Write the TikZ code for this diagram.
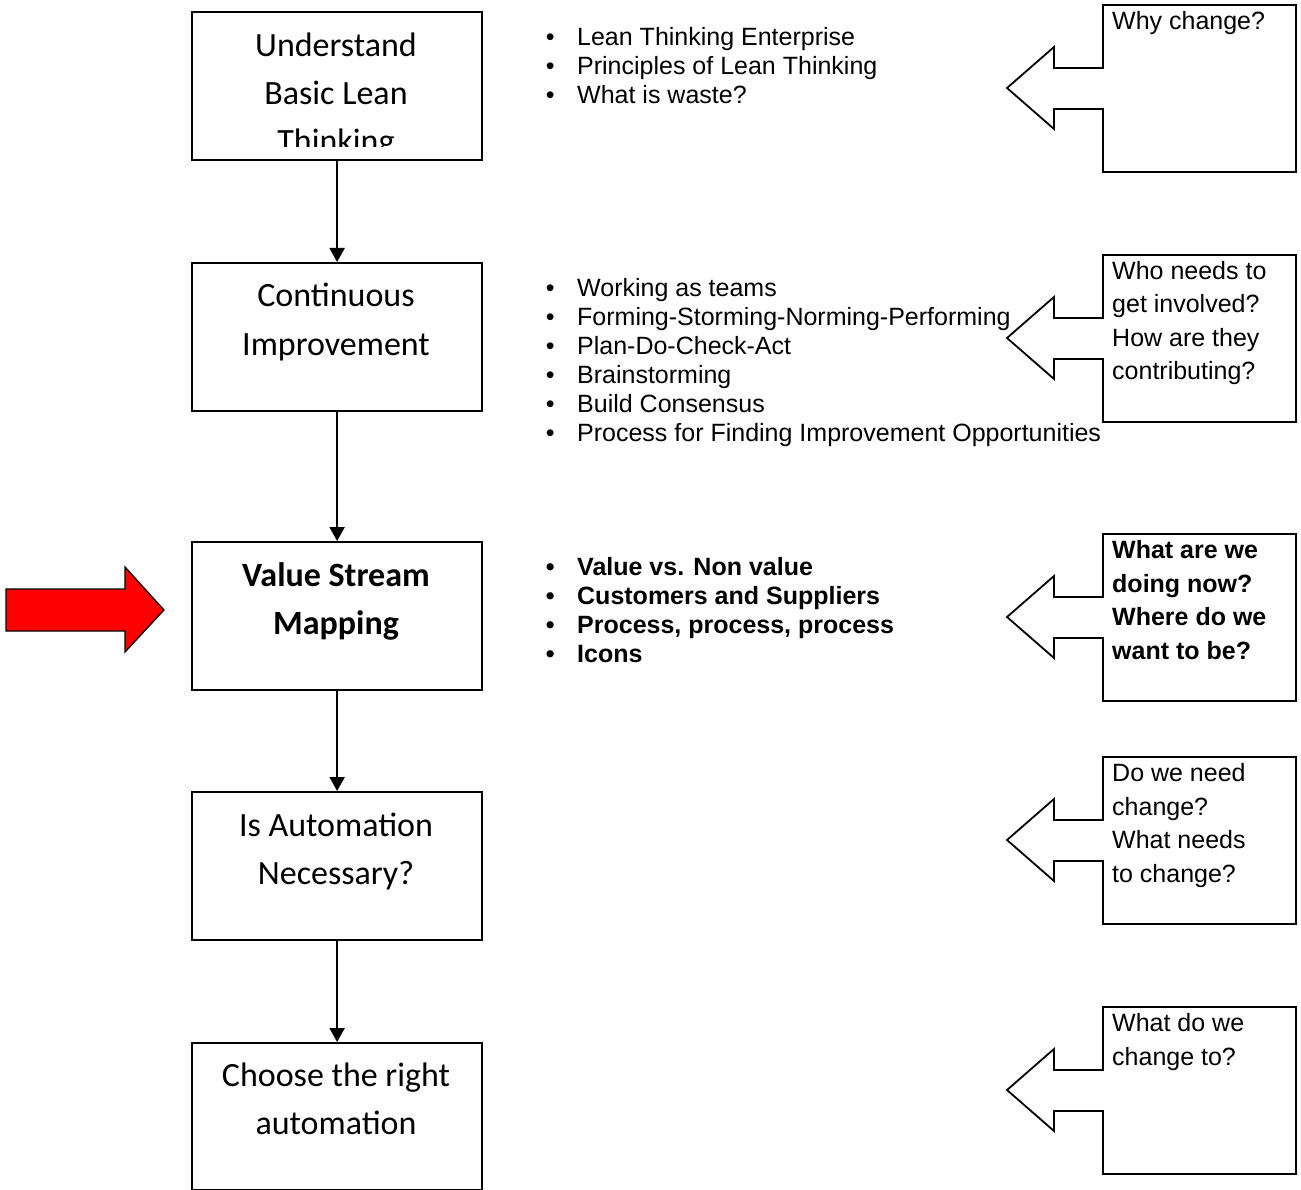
\documentclass[tikz,border=0pt]{standalone}
\usepackage{fontspec}
\setmainfont{Liberation Sans}
\newfontfamily\calib{Carlito}
\usetikzlibrary{arrows.meta}
\begin{document}
\begin{tikzpicture}[x=1pt,y=-1pt,
  box/.style={draw, line width=2.2pt, rectangle, minimum width=290pt, minimum height=148pt, anchor=north west, inner sep=0pt},
  boxtext/.style={anchor=base, inner sep=0pt, font=\calib\fontsize{34}{48}\selectfont},
  flow/.style={line width=2.2pt, -{Triangle[width=15pt,length=14pt]}},
  bullets/.style={anchor=base west, inner sep=0pt, font=\fontsize{25}{29}\selectfont},
  note/.style={anchor=base west, inner sep=0pt, font=\fontsize{25}{33.5}\selectfont},
  calloutline/.style={draw, line width=1.8pt, line join=miter, fill=white},
  callout/.pic={\path[calloutline] (96,63) -- (96,0) -- (289,0) -- (289,167) -- (96,167) -- (96,104) -- (47,104) -- (47,124) -- (0,83) -- (47,42) -- (47,63) -- cycle;},
  redarrow/.style={draw=black, line width=1.3pt, fill=red, line join=miter}
]
\useasboundingbox (0,0) rectangle (1301,1190);

% left boxes
\node[box] (b1) at (191,11) {};
\node[box] (b2) at (191,262) {};
\node[box] (b3) at (191,541) {};
\node[box] (b4) at (191,791) {};
\node[box, minimum height=147pt] (b5) at (191,1042) {};

\begin{scope}
  \clip (191,11) rectangle (481,147);
  \node[boxtext] (t1) at (336,57) {\parbox[t]{290pt}{\centering Understand\\Basic Lean\\Thinking}};
\end{scope}
\node[boxtext] (t2) at (336,307) {\parbox[t]{290pt}{\centering Continuous\\Improvement}};
\node[boxtext] (t3) at (336,586) {\parbox[t]{290pt}{\centering\bfseries Value Stream\\Mapping}};
\node[boxtext] (t4) at (336,836) {\parbox[t]{290pt}{\centering Is Automation\\Necessary?}};
\node[boxtext] (t5) at (336,1086) {\parbox[t]{290pt}{\centering Choose the right\\automation}};

\draw[flow] (b1.south) -- (b2.north);
\draw[flow] (b2.south) -- (b3.north);
\draw[flow] (b3.south) -- (b4.north);
\draw[flow] (b4.south) -- (b5.north);

% bullet lists
\node[bullets] (l1) at (550,46) {\parbox[t]{700pt}{%
\makebox[0pt]{\textbullet}\hspace{27pt}Lean Thinking Enterprise\\
\makebox[0pt]{\textbullet}\hspace{27pt}Principles of Lean Thinking\\
\makebox[0pt]{\textbullet}\hspace{27pt}What is waste?}};
\node[bullets] (l2) at (550,297) {\parbox[t]{700pt}{%
\makebox[0pt]{\textbullet}\hspace{27pt}Working as teams\\
\makebox[0pt]{\textbullet}\hspace{27pt}Forming-Storming-Norming-Performing\\
\makebox[0pt]{\textbullet}\hspace{27pt}Plan-Do-Check-Act\\
\makebox[0pt]{\textbullet}\hspace{27pt}Brainstorming\\
\makebox[0pt]{\textbullet}\hspace{27pt}Build Consensus\\
\makebox[0pt]{\textbullet}\hspace{27pt}Process for Finding Improvement Opportunities}};

% callouts
\pic at (1007,5) {callout};
\pic at (1007,255) {callout};
\pic at (1007,534) {callout};
\pic at (1007,757) {callout};
\pic at (1007,1007) {callout};

\node[bullets] (l3) at (550,575) {\parbox[t]{700pt}{\bfseries
\makebox[0pt]{\textbullet}\hspace{27pt}Value vs. Non value\\
\makebox[0pt]{\textbullet}\hspace{27pt}Customers and Suppliers\\
\makebox[0pt]{\textbullet}\hspace{27pt}Process, process, process\\
\makebox[0pt]{\textbullet}\hspace{27pt}Icons}};

\node[note] (n1) at (1112,29.5) {\parbox[t]{185pt}{Why change?}};
\node[note] (n2) at (1112,279.5) {\parbox[t]{185pt}{Who needs to\\get involved?\\How are they\\contributing?}};
\node[note] (n3) at (1112,558.5) {\parbox[t]{185pt}{\bfseries What are we\\doing now?\\Where do we\\want to be?}};
\node[note] (n4) at (1112,781.5) {\parbox[t]{185pt}{Do we need\\change?\\What needs\\to change?}};
\node[note] (n5) at (1112,1031.5) {\parbox[t]{185pt}{What do we\\change to?}};

% red arrow
\path[redarrow] (6,589) -- (125,589) -- (125,567) -- (164,610) -- (125,652) -- (125,631) -- (6,631) -- cycle;
\end{tikzpicture}
\end{document}
